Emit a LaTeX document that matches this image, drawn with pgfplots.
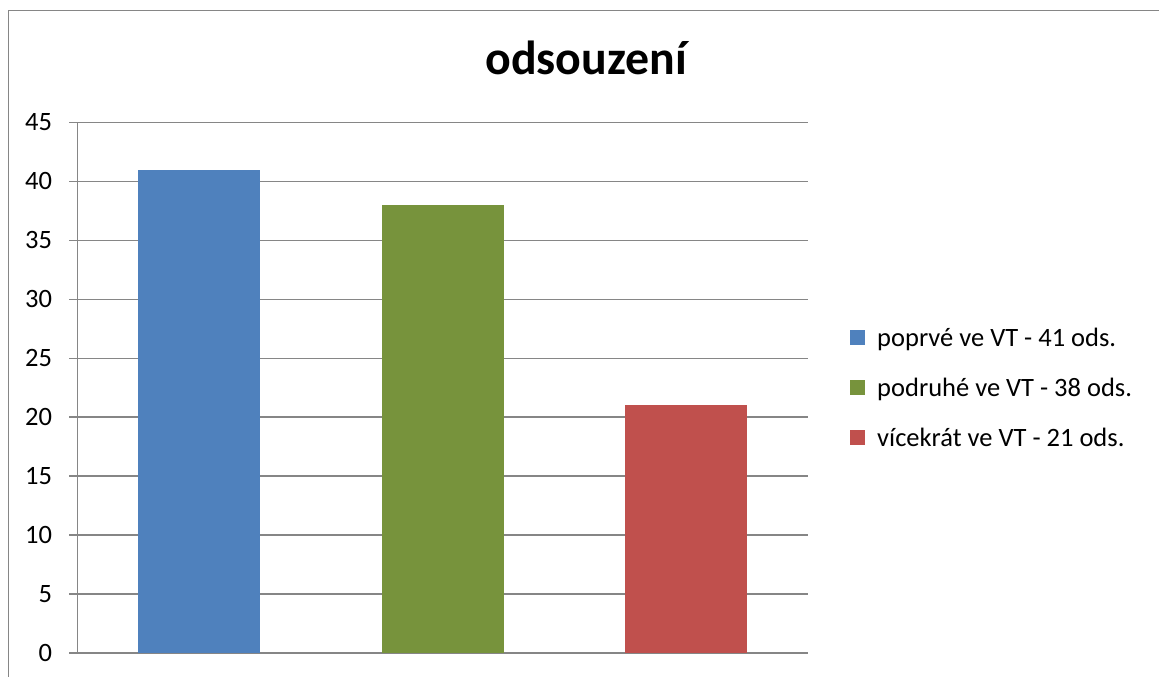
\documentclass[border=0pt]{standalone}
\usepackage{fontspec}
\setmainfont{Carlito}
\usepackage{pgfplots}
\pgfplotsset{compat=1.18}
\definecolor{cblue}{HTML}{4F81BD}
\definecolor{cgreen}{HTML}{77933C}
\definecolor{cred}{HTML}{C0504D}
\definecolor{gridc}{HTML}{868686}
\begin{document}
\begin{tikzpicture}[x=1bp,y=1bp]
\useasboundingbox (0,0) rectangle (1159,677);
\draw[gridc, line width=1.5bp] (8.5,-2) -- (8.5,666.5) -- (1161,666.5);
\node[anchor=base, font=\fontsize{48}{48}\selectfont\bfseries] at (586,602.5) {odsouzení};
\begin{axis}[
  at={(77.5bp,24bp)}, anchor=south west,
  scale only axis, width=730bp, height=530.5bp,
  xmin=-0.5, xmax=2.5, ymin=0, ymax=45,
  ytick={0,5,...,45}, xtick=\empty,
  ymajorgrids, grid style={gridc, line width=1.5bp},
  axis x line*=bottom, axis y line*=left,
  axis line style={-, gridc, line width=1.5bp},
  tick align=outside, major tick length=8bp,
  ytick style={gridc, line width=1.5bp},
  yticklabel style={font=\fontsize{26.6}{26.6}\selectfont, xshift=-14bp},
  /pgf/number format/assume math mode=true,
  ybar, bar width=122bp, bar shift=0pt,
  every axis plot post/.append style={legend image code/.code={\fill[##1] (0bp,-7.5bp) rectangle (15bp,7.5bp);}},
  legend style={at={(1,0.5)}, anchor=west, xshift=42.5bp, draw=none, fill=none, inner sep=0pt,
    font=\fontsize{26.6}{26.6}\selectfont, row sep=30bp,
    nodes={inner sep=0pt, anchor=west}},
  legend cell align=left,
  /tikz/every odd column/.append style={column sep=12bp},
]
\addplot[fill=cblue, draw=none] coordinates {(0,41)};
\addplot[fill=cgreen, draw=none] coordinates {(1,38)};
\addplot[fill=cred, draw=none] coordinates {(2,21)};
\legend{poprvé ve VT - 41 ods., podruhé ve VT - 38 ods., vícekrát ve VT - 21 ods.}
\end{axis}
\end{tikzpicture}
\end{document}
